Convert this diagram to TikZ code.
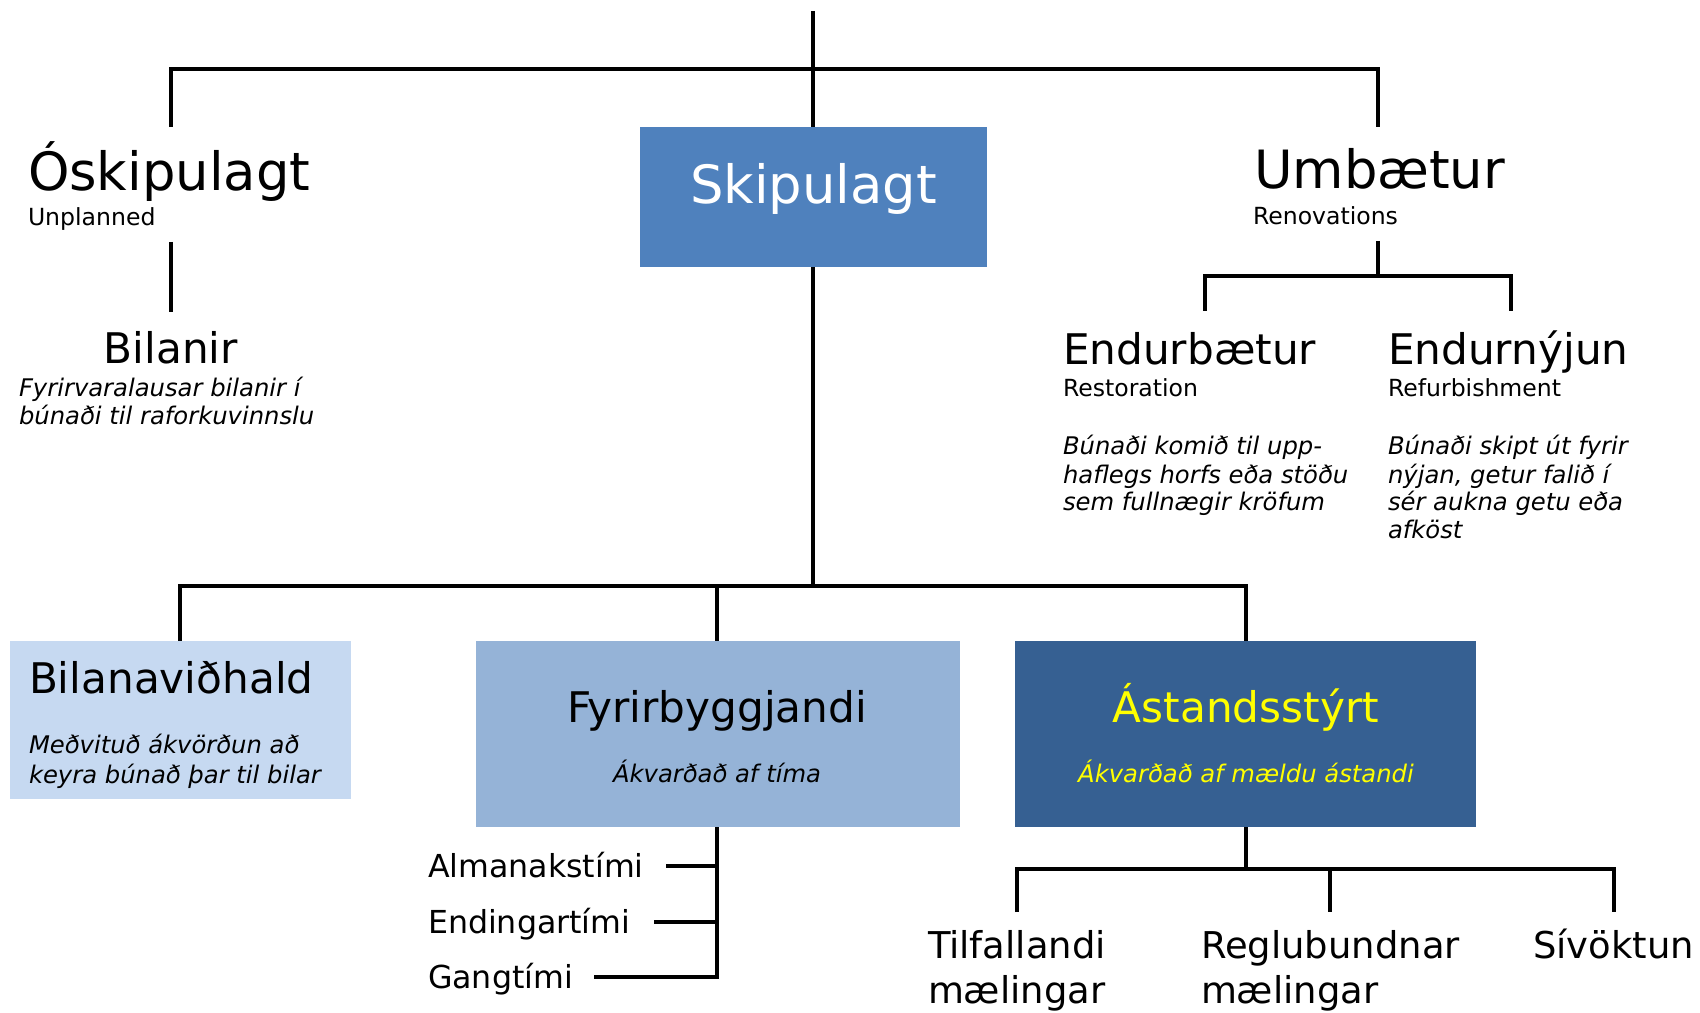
\documentclass[tikz,border=0pt]{standalone}
\usepackage{fontspec}
\setmainfont{DejaVu Sans}
\definecolor{skblue}{HTML}{4F81BD}
\definecolor{bvblue}{HTML}{C6D9F1}
\definecolor{fyblue}{HTML}{95B3D7}
\definecolor{asblue}{HTML}{366092}
\definecolor{asyellow}{HTML}{FFFF00}
\tikzset{
  conn/.style={draw=black, line width=0.9pt},
  txt/.style={inner sep=0pt, outer sep=0pt, anchor=base west},
  ctxt/.style={inner sep=0pt, outer sep=0pt, anchor=base},
  big/.style={font=\fontsize{15}{18}\selectfont},
  mid/.style={font=\fontsize{12}{14}\selectfont},
  sub/.style={font=\fontsize{6.7}{8}\selectfont},
  ital/.style={font=\fontsize{6.9}{8.3}\selectfont\itshape},
  lst/.style={font=\fontsize{9}{11}\selectfont},
  leaf/.style={font=\fontsize{10.5}{12.9}\selectfont},
  boxfill/.style={draw=none, inner sep=0pt, outer sep=0pt, anchor=north west},
}
\begin{document}
\begin{tikzpicture}[x=0.01cm,y=-0.01cm]
\useasboundingbox (0,0) rectangle (1700,1013);

% boxes
\node[boxfill, fill=skblue, minimum width=3.47cm, minimum height=1.40cm] (sk) at (640,127) {};
\node[boxfill, fill=bvblue, minimum width=3.41cm, minimum height=1.58cm] (bv) at (10,641) {};
\node[boxfill, fill=fyblue, minimum width=4.84cm, minimum height=1.86cm] (fy) at (476,641) {};
\node[boxfill, fill=asblue, minimum width=4.61cm, minimum height=1.86cm] (as) at (1015,641) {};

% texts
\node[ctxt, big, text=white] (sktxt) at (813.5,204) {Skipulagt};

\node[txt, big] (osk) at (28,191) {Óskipulagt};
\node[txt, sub] (oskE) at (28,226) {Unplanned};
\node[ctxt, mid] (bil) at (171,364) {Bilanir};
\node[txt, ital] (bilA) at (19,397) {Fyrirvaralausar bilanir í};
\node[txt, ital] (bilB) at (19,425) {búnaði til raforkuvinnslu};

\node[txt, big] (umb) at (1254,189) {Umbætur};
\node[txt, sub] (umbE) at (1253,225) {Renovations};
\node[txt, mid] (endb) at (1063,365) {Endurbætur};
\node[txt, sub] (endbE) at (1063,397) {Restoration};
\node[txt, ital] (endbA) at (1063,455) {Búnaði komið til upp-};
\node[txt, ital] (endbB) at (1063,484) {haflegs horfs eða stöðu};
\node[txt, ital] (endbC) at (1063,511) {sem fullnægir kröfum};
\node[txt, mid] (endn) at (1388,365) {Endurnýjun};
\node[txt, sub] (endnE) at (1388,397) {Refurbishment};
\node[txt, ital] (endnA) at (1388,455) {Búnaði skipt út fyrir};
\node[txt, ital] (endnB) at (1388,484) {nýjan, getur falið í};
\node[txt, ital] (endnC) at (1388,511) {sér aukna getu eða};
\node[txt, ital] (endnD) at (1388,539) {afköst};

\node[txt, mid] (bvtxt) at (29,694) {Bilanaviðhald};
\node[txt, ital] (bvA) at (29,754) {Meðvituð ákvörðun að};
\node[txt, ital] (bvB) at (29,783) {keyra búnað þar til bilar};

\node[ctxt, mid] (fytxt) at (717,722) {Fyrirbyggjandi};
\node[ctxt, ital] (fyA) at (717,782) {Ákvarðað af tíma};

\node[ctxt, mid, text=asyellow] (astxt) at (1246,722) {Ástandsstýrt};
\node[ctxt, ital, text=asyellow] (asA) at (1246,782) {Ákvarðað af mældu ástandi};

\node[txt, lst] (alm) at (428,877) {Almanakstími};
\node[txt, lst] (endi) at (428,933) {Endingartími};
\node[txt, lst] (gang) at (428,988) {Gangtími};

\node[txt, leaf] (tilA) at (928,958) {Tilfallandi};
\node[txt, leaf] (tilB) at (928,1003) {mælingar};
\node[txt, leaf] (regA) at (1201,958) {Reglubundnar};
\node[txt, leaf] (regB) at (1201,1003) {mælingar};
\node[txt, leaf] (siv) at (1533,958) {Sívöktun};

% junction coordinates
\coordinate (topend) at (813,11);
\coordinate (hL) at (171,69);
\coordinate (hR) at (1378,69);
\coordinate (oskTop) at (171,127);
\coordinate (umbTop) at (1378,127);
\coordinate (oskBot) at (171,242);
\coordinate (bilTop) at (171,312);
\coordinate (umbBot) at (1378,241);
\coordinate (umbJ) at (1378,276);
\coordinate (rL) at (1205,276);
\coordinate (rR) at (1511,276);
\coordinate (endbTop) at (1205,311);
\coordinate (endnTop) at (1511,311);
\coordinate (skJ) at (813,586);
\coordinate (mL) at (180,586);
\coordinate (mF) at (717,586);
\coordinate (mR) at (1246,586);
\coordinate (fyJ1) at (717,866);
\coordinate (fyJ2) at (717,922);
\coordinate (fyJ3) at (717,977);
\coordinate (almE) at (666,866);
\coordinate (endiE) at (654,922);
\coordinate (gangE) at (594,977);
\coordinate (asJ) at (1246,869);
\coordinate (lL) at (1017,869);
\coordinate (lM) at (1330,869);
\coordinate (lR) at (1614,869);
\coordinate (tilTop) at (1017,912);
\coordinate (regTop) at (1330,912);
\coordinate (sivTop) at (1614,912);

% connectors
\draw[conn] (topend) -- (sk.north -| topend);
\draw[conn] (oskTop) -- (hL) -- (hR) -- (umbTop);
\draw[conn] (oskBot) -- (bilTop);
\draw[conn] (umbBot) -- (umbJ);
\draw[conn] (endbTop) -- (rL) -- (rR) -- (endnTop);
\draw[conn] (sk.south -| skJ) -- (skJ);
\draw[conn] (bv.north -| mL) -- (mL) -- (mR) -- (as.north -| mR);
\draw[conn] (mF) -- (fy.north -| mF);
\draw[conn] (fy.south -| fyJ3) -- (fyJ3) -- (gangE);
\draw[conn] (fyJ1) -- (almE);
\draw[conn] (fyJ2) -- (endiE);
\draw[conn] (as.south -| asJ) -- (asJ);
\draw[conn] (tilTop) -- (lL) -- (lR) -- (sivTop);
\draw[conn] (lM) -- (regTop);
\end{tikzpicture}
\end{document}
